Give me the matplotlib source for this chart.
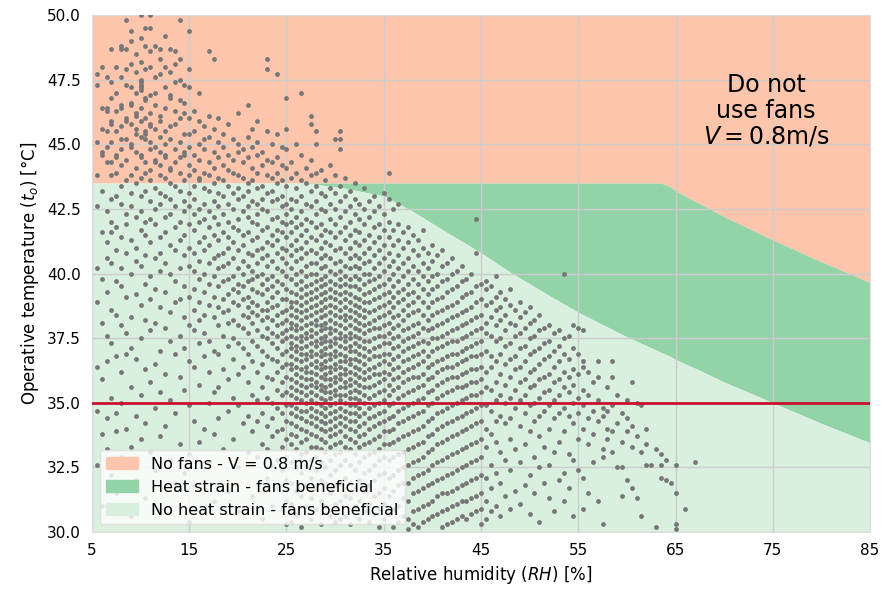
import matplotlib
matplotlib.use("Agg")
import matplotlib.pyplot as plt
from matplotlib.patches import Patch

# boundaries of the fan-use regions
rh_bound = [5, 27, 31, 35, 38, 41, 45, 48, 52, 55, 60, 63.5, 64.5, 65, 66.2, 67.5, 70, 75, 80, 85]
t_nofan = [43.5, 43.5, 43.5, 43.5, 43.5, 43.5, 43.5, 43.5, 43.5, 43.5, 43.5, 43.5,
           43.35, 43.2, 42.95, 42.7, 42.2, 41.3, 40.45, 39.65]
t_strain = [43.5, 43.5, 43.3, 43.0, 42.4, 41.7, 40.8, 40.05, 39.15, 38.5, 37.55, 36.95,
            36.78, 36.68, 36.47, 36.25, 35.8, 35.0, 34.2, 33.45]
t_limit = 35.0

x_ticks = [5, 15, 25, 35, 45, 55, 65, 75, 85]
y_ticks = [30.0, 32.5, 35.0, 37.5, 40.0, 42.5, 45.0, 47.5, 50.0]

region_labels = ["No fans - V = 0.8 m/s", "Heat strain - fans beneficial",
                 "No heat strain - fans beneficial"]

# observations (RH, list of operative temperatures)
obs_low_rh = [
    (5.5, [47.7, 47.3, 45.1, 43.8, 42.6, 40.2, 38.9, 36.4, 34.7, 32.6]),
    (6.0, [48.0, 46.4, 45.6, 44.7, 44.6, 43.2, 41.6, 39.8, 38.1, 35.9, 33.8, 31.0]),
    (6.5, [47.6, 46.4, 46.3, 45.5, 44.9, 44.3, 42.4, 41.2, 40.6, 39.3, 37.6, 36.6, 34.4, 33.2]),
    (7.0, [48.7, 47.4, 46.8, 45.9, 45.8, 45.1, 44.3, 43.8, 42.9, 42.0, 41.6, 40.4, 38.6, 37.3, 35.2, 32.2]),
    (7.5, [48.0, 47.0, 46.3, 45.5, 44.6, 44.5, 43.9, 43.0, 41.8, 40.9, 39.7, 38.4, 36.8, 34.6, 33.9, 31.5]),
    (8.0, [48.8, 48.7, 47.6, 46.5, 46.4, 45.7, 45.2, 44.8, 44.2, 43.4, 42.7, 41.4, 40.2, 39.5, 38.0, 36.2, 35.0, 32.9]),
    (8.5, [49.8, 48.7, 47.9, 47.3, 46.0, 45.9, 45.2, 44.4, 43.6, 42.3, 41.9, 40.8, 39.1, 37.7, 36.9, 34.0, 31.7]),
    (9.0, [49.4, 49.0, 48.1, 47.2, 46.6, 46.5, 45.8, 45.0, 44.9, 43.8, 43.1, 42.6, 41.3, 40.0, 38.3, 37.1, 35.6, 33.3, 30.6]),
    (9.5, [48.5, 47.8, 47.0, 46.2, 46.1, 45.6, 45.4, 44.7, 44.1, 43.5, 42.2, 41.0, 40.5, 39.2, 36.7, 34.5, 32.0]),
    (10.0, [50.0, 49.1, 48.2, 47.5, 47.4, 47.3, 47.2, 47.1, 46.4, 45.9, 45.3, 44.6, 44.5, 43.7, 43.0, 42.4, 41.7, 40.3, 38.8, 37.5, 35.3, 33.6]),
    (10.5, [49.5, 48.8, 47.9, 46.8, 46.7, 46.0, 45.5, 45.4, 45.2, 44.3, 43.9, 43.2, 42.0, 41.5, 40.7, 39.6, 38.2, 36.3, 34.2, 31.3]),
    (11.0, [50.0, 49.5, 48.6, 48.0, 46.9, 46.2, 45.8, 45.7, 45.1, 44.8, 44.0, 43.6, 42.8, 42.1, 41.2, 39.9, 39.0, 37.8, 35.8, 33.1]),
    (11.5, [48.8, 47.6, 47.0, 46.5, 45.6, 44.9, 44.4, 44.3, 43.3, 42.5, 41.9, 40.6, 39.4, 38.1, 36.5, 34.8, 32.4]),
    (12.0, [48.7, 48.3, 47.7, 46.1, 45.9, 45.3, 44.7, 44.2, 43.8, 43.1, 42.7, 41.4, 40.8, 40.1, 38.7, 37.0, 35.4, 33.7, 30.9]),
    (12.5, [49.2, 48.0, 47.2, 46.4, 45.5, 45.0, 44.6, 44.5, 43.7, 43.0, 42.2, 41.6, 40.4, 39.3, 37.9, 36.1, 34.1]),
    (13.0, [48.7, 47.8, 46.9, 46.8, 45.7, 45.2, 44.1, 44.0, 43.5, 42.9, 42.3, 41.1, 40.0, 38.5, 37.4, 35.1, 32.8]),
    (13.5, [48.6, 48.1, 47.4, 46.3, 45.8, 44.8, 44.3, 43.4, 42.6, 41.8, 40.9, 39.7, 38.9, 36.9, 34.6, 31.9]),
    (14.0, [49.8, 48.3, 47.5, 46.7, 46.0, 45.1, 44.5, 43.9, 43.2, 42.0, 41.3, 40.2, 39.0, 37.6, 36.0, 33.4]),
    (14.5, [47.3, 46.6, 46.2, 45.4, 44.7, 44.6, 43.6, 42.8, 42.4, 41.5, 40.7, 39.5, 38.3, 37.1, 35.5, 32.3]),
    (15.0, [49.4, 47.9, 47.2, 46.0, 45.4, 44.9, 44.2, 43.8, 43.1, 42.6, 41.9, 41.0, 40.3, 39.1, 38.0, 36.6, 34.9, 33.0, 30.4]),
]

obs_mid_rh = [
    (15.5, [46.3, 45.5, 44.6, 44.0, 43.4, 42.9, 42.3, 41.7, 40.8, 40.1, 39.4, 38.6, 37.8, 36.4, 34.3, 31.8]),
    (16.0, [47.0, 45.9, 45.0, 44.4, 43.7, 43.6, 42.5, 42.0, 41.2, 40.5, 39.8, 38.9, 38.2, 37.3, 35.7, 33.5]),
    (16.5, [45.7, 45.2, 44.8, 43.9, 43.3, 42.7, 42.1, 41.4, 40.9, 40.0, 39.3, 38.4, 37.7, 36.8, 34.0]),
    (17.0, [48.6, 46.1, 45.3, 44.3, 43.8, 43.2, 42.4, 41.8, 41.1, 40.4, 39.6, 38.8, 37.4, 36.2, 35.0, 32.7]),
    (17.5, [48.3, 45.6, 44.7, 44.1, 43.5, 42.8, 42.2, 41.5, 40.6, 39.9, 39.1, 38.3, 37.0, 35.4, 33.8, 31.2]),
    (18.0, [46.0, 45.1, 44.5, 43.7, 43.1, 42.6, 41.9, 41.3, 40.7, 40.2, 39.5, 38.7, 38.0, 36.9, 35.6, 34.4]),
    (18.5, [45.4, 44.9, 44.2, 43.6, 43.0, 42.3, 41.6, 40.8, 40.3, 39.7, 39.0, 38.5, 37.6, 36.3, 33.2]),
    (19.0, [45.8, 44.6, 44.0, 43.4, 42.7, 42.0, 41.4, 41.0, 40.4, 39.8, 39.2, 38.6, 38.1, 37.2, 35.9, 34.7, 31.6]),
    (19.5, [45.2, 44.4, 43.9, 43.1, 42.5, 41.8, 41.2, 40.6, 39.9, 39.4, 38.9, 38.2, 37.5, 36.7, 35.2, 33.6]),
    (20.0, [46.2, 45.0, 44.7, 43.8, 43.3, 42.9, 42.1, 41.7, 40.9, 40.2, 39.6, 39.3, 38.8, 38.0, 37.3, 36.1, 34.9, 32.5, 30.8]),
    (20.5, [44.8, 44.3, 43.7, 43.0, 42.4, 41.5, 41.1, 40.5, 40.0, 39.5, 39.0, 38.4, 37.9, 37.1, 36.4, 34.2]),
    (21.0, [46.5, 45.3, 44.5, 43.5, 43.2, 42.6, 42.2, 41.6, 40.8, 40.3, 39.7, 39.1, 38.7, 38.3, 37.7, 36.9, 35.8, 34.5, 33.1]),
    (21.5, [45.6, 44.9, 44.1, 43.6, 42.8, 42.0, 41.3, 40.7, 40.1, 39.8, 39.4, 38.9, 38.5, 38.1, 37.4, 36.6, 35.3, 33.9, 31.4]),
    (22.0, [45.9, 45.1, 44.6, 43.9, 43.3, 42.7, 42.3, 41.9, 41.4, 40.9, 40.4, 39.9, 39.3, 38.8, 38.4, 37.8, 37.2, 36.2, 35.1, 34.3, 32.9]),
    (22.5, [44.7, 44.2, 43.4, 42.9, 42.5, 41.7, 41.0, 40.6, 40.0, 39.6, 39.2, 38.6, 38.2, 37.6, 37.0, 36.5, 35.6, 34.6, 33.4, 30.5]),
    (23.0, [48.3, 47.9, 45.5, 44.4, 43.8, 43.1, 42.4, 41.8, 41.2, 40.7, 40.3, 39.8, 39.4, 38.9, 38.6, 38.3, 37.9, 37.5, 36.8, 36.0, 35.2, 34.1, 33.2, 32.1]),
    (23.5, [45.0, 44.3, 43.7, 43.2, 42.8, 42.1, 41.5, 41.1, 40.5, 39.9, 39.5, 39.1, 38.7, 38.2, 37.7, 37.3, 36.7, 35.9, 35.0, 34.4, 33.7, 32.6, 31.0]),
    (24.0, [47.7, 45.4, 44.5, 43.9, 43.5, 42.9, 42.2, 41.7, 41.3, 40.8, 40.2, 39.7, 39.3, 38.8, 38.4, 38.0, 37.6, 37.1, 36.6, 36.2, 35.5, 34.8, 33.9, 32.8, 31.7]),
    (24.5, [44.9, 44.2, 43.6, 43.0, 42.6, 42.0, 41.6, 41.0, 40.6, 40.1, 39.6, 39.0, 38.5, 38.1, 37.7, 37.4, 36.9, 36.4, 35.8, 35.3, 34.6, 34.0, 33.3, 32.4, 30.9]),
    (25.0, [46.8, 45.6, 44.8, 44.1, 43.4, 42.7, 42.3, 41.9, 41.4, 40.9, 40.4, 39.9, 39.4, 39.0, 38.6, 38.2, 37.8, 37.5, 37.0, 36.5, 36.0, 35.4, 34.9, 34.3, 33.6, 32.9, 32.0, 31.2, 30.3]),
]

obs_dense_rh = [
    (25.5, [44.3, 43.7, 42.9, 42.5, 42.0, 41.6, 41.1, 40.7, 40.2, 39.8, 39.3, 38.9, 38.7, 38.4, 38.1, 37.9, 37.6, 37.3, 37.1, 36.8, 36.5, 36.3, 35.9, 35.6, 35.3, 34.9, 34.6, 34.2, 33.8, 33.4, 32.7, 31.9, 31.1, 30.4]),
    (26.0, [45.0, 43.9, 43.3, 42.8, 42.2, 41.8, 41.3, 40.9, 40.5, 40.0, 39.6, 39.2, 38.9, 38.6, 38.3, 38.0, 37.8, 37.5, 37.2, 37.0, 36.7, 36.4, 36.1, 35.8, 35.5, 35.2, 34.8, 34.5, 34.1, 33.7, 33.2, 32.5, 31.6, 30.7]),
    (26.5, [47.0, 44.6, 43.6, 43.0, 42.4, 41.9, 41.5, 41.0, 40.6, 40.1, 39.7, 39.4, 39.1, 38.8, 38.5, 38.2, 37.9, 37.6, 37.4, 37.1, 36.9, 36.6, 36.3, 36.0, 35.7, 35.4, 35.1, 34.7, 34.4, 34.0, 33.5, 33.0, 32.3, 31.4, 30.2]),
    (27.0, [44.1, 43.5, 42.7, 42.1, 41.7, 41.2, 40.8, 40.3, 39.9, 39.5, 39.2, 38.9, 38.6, 38.3, 38.0, 37.7, 37.5, 37.2, 36.9, 36.7, 36.4, 36.2, 35.9, 35.6, 35.3, 35.0, 34.7, 34.3, 33.9, 33.6, 33.1, 32.6, 31.8, 31.0]),
    (27.5, [46.1, 45.8, 44.4, 43.8, 43.2, 42.6, 42.0, 41.4, 40.9, 40.4, 40.0, 39.6, 39.3, 39.0, 38.7, 38.4, 38.1, 37.8, 37.6, 37.3, 37.0, 36.8, 36.5, 36.2, 35.9, 35.7, 35.4, 35.1, 34.8, 34.5, 34.2, 33.8, 33.3, 32.8, 32.1, 31.3, 30.5]),
    (28.0, [45.5, 45.0, 43.9, 43.4, 42.8, 42.3, 41.8, 41.3, 40.8, 40.4, 40.0, 39.7, 39.4, 39.1, 38.8, 38.5, 38.2, 38.0, 37.7, 37.4, 37.2, 36.9, 36.6, 36.4, 36.1, 35.8, 35.6, 35.3, 35.0, 34.7, 34.4, 34.1, 33.7, 33.3, 32.9, 32.4, 31.7, 30.9]),
    (28.5, [44.0, 43.1, 42.5, 41.9, 41.5, 41.0, 40.6, 40.2, 39.8, 39.5, 39.2, 38.9, 38.6, 38.3, 38.0, 37.8, 37.5, 37.3, 37.0, 36.8, 36.5, 36.3, 36.0, 35.7, 35.5, 35.2, 34.9, 34.6, 34.3, 34.0, 33.6, 33.2, 32.7, 32.0, 31.2, 30.3]),
    (29.0, [43.6, 43.0, 42.4, 41.7, 41.2, 40.7, 40.3, 39.9, 39.6, 39.3, 39.0, 38.7, 38.4, 38.1, 37.9, 37.6, 37.4, 37.1, 36.9, 36.6, 36.4, 36.1, 35.9, 35.6, 35.4, 35.1, 34.8, 34.5, 34.2, 33.9, 33.5, 33.1, 32.5, 31.9, 31.0]),
    (29.5, [44.2, 43.3, 42.7, 42.1, 41.6, 41.1, 40.6, 40.1, 39.7, 39.4, 39.1, 38.8, 38.5, 38.2, 37.9, 37.7, 37.4, 37.2, 36.9, 36.7, 36.4, 36.2, 35.9, 35.7, 35.4, 35.2, 34.9, 34.6, 34.3, 34.0, 33.7, 33.3, 32.8, 32.2, 31.5, 30.6]),
    (30.0, [45.2, 43.8, 43.1, 42.5, 41.9, 41.4, 40.9, 40.4, 40.0, 39.6, 39.3, 39.0, 38.7, 38.4, 38.1, 37.8, 37.5, 37.3, 37.0, 36.8, 36.5, 36.3, 36.0, 35.8, 35.5, 35.3, 35.0, 34.7, 34.4, 34.1, 33.8, 33.4, 33.0, 32.4, 31.8, 31.1, 30.4]),
    (30.5, [45.5, 45.2, 44.8, 43.4, 42.8, 42.2, 41.6, 41.0, 40.5, 40.1, 39.8, 39.5, 39.2, 38.9, 38.6, 38.3, 38.0, 37.7, 37.5, 37.2, 36.9, 36.6, 36.4, 36.1, 35.9, 35.6, 35.3, 35.1, 34.8, 34.5, 34.2, 33.9, 33.5, 33.1, 32.6, 31.9, 31.2, 30.5]),
    (31.0, [43.7, 43.0, 42.4, 41.8, 41.3, 40.8, 40.3, 39.9, 39.6, 39.3, 39.0, 38.7, 38.4, 38.2, 37.9, 37.6, 37.4, 37.1, 36.8, 36.6, 36.3, 36.1, 35.8, 35.6, 35.3, 35.0, 34.7, 34.4, 34.1, 33.7, 33.3, 32.8, 32.1, 31.4, 30.6]),
    (31.5, [43.2, 42.6, 42.0, 41.5, 41.0, 40.6, 40.2, 39.8, 39.5, 39.2, 38.9, 38.6, 38.3, 38.0, 37.7, 37.5, 37.2, 37.0, 36.7, 36.5, 36.2, 35.9, 35.7, 35.4, 35.2, 34.9, 34.6, 34.3, 34.0, 33.6, 33.2, 32.6, 31.9, 31.3, 30.3]),
    (32.0, [43.5, 42.9, 42.3, 41.7, 41.2, 40.7, 40.3, 39.9, 39.5, 39.1, 38.8, 38.5, 38.2, 37.9, 37.6, 37.3, 37.0, 36.7, 36.4, 36.1, 35.8, 35.5, 35.2, 34.9, 34.6, 34.3, 33.9, 33.5, 33.0, 32.4, 31.7, 31.0]),
    (32.5, [42.7, 42.1, 41.6, 41.1, 40.6, 40.2, 39.8, 39.4, 39.0, 38.7, 38.4, 38.1, 37.8, 37.5, 37.2, 36.9, 36.6, 36.3, 36.0, 35.7, 35.4, 35.1, 34.8, 34.5, 34.1, 33.7, 33.3, 32.7, 32.0, 31.2, 30.5]),
    (33.0, [43.3, 42.5, 41.9, 41.3, 40.8, 40.4, 40.0, 39.6, 39.2, 38.9, 38.6, 38.3, 38.0, 37.7, 37.4, 37.1, 36.8, 36.5, 36.2, 35.9, 35.6, 35.3, 35.0, 34.6, 34.2, 33.8, 33.4, 32.9, 32.3, 31.6, 30.8]),
    (33.5, [42.8, 42.2, 41.5, 41.0, 40.5, 40.0, 39.7, 39.3, 38.9, 38.5, 38.1, 37.8, 37.4, 37.0, 36.7, 36.3, 36.0, 35.6, 35.2, 34.8, 34.4, 34.0, 33.5, 33.0, 32.4, 31.8, 31.1, 30.4]),
    (34.0, [43.0, 42.4, 41.8, 41.2, 40.7, 40.2, 39.8, 39.4, 39.0, 38.6, 38.2, 37.9, 37.5, 37.1, 36.8, 36.4, 36.1, 35.7, 35.3, 34.9, 34.5, 34.1, 33.6, 33.1, 32.6, 32.0, 31.4, 30.7]),
    (34.5, [42.6, 41.9, 41.4, 40.9, 40.4, 39.9, 39.5, 39.1, 38.7, 38.3, 37.9, 37.6, 37.2, 36.8, 36.5, 36.1, 35.8, 35.4, 35.0, 34.6, 34.2, 33.7, 33.2, 32.8, 32.2, 31.5, 30.9, 30.2]),
    (35.0, [43.1, 42.3, 41.7, 41.1, 40.6, 40.1, 39.6, 39.2, 38.8, 38.4, 38.0, 37.6, 37.3, 36.9, 36.6, 36.2, 35.9, 35.5, 35.1, 34.7, 34.3, 33.9, 33.4, 32.9, 32.3, 31.7, 31.1, 30.5]),
]

obs_upper_rh = [
    (35.5, [43.9, 42.9, 42.0, 41.4, 40.8, 40.3, 39.8, 39.3, 38.9, 38.5, 38.1, 37.7, 37.3, 36.9, 36.5, 36.1, 35.7, 35.3, 34.9, 34.4, 33.9, 33.4, 32.8, 32.1, 31.4, 30.7]),
    (36.0, [42.5, 41.7, 41.1, 40.5, 40.0, 39.5, 39.1, 38.7, 38.3, 37.9, 37.5, 37.1, 36.7, 36.3, 35.9, 35.5, 35.0, 34.5, 34.0, 33.5, 32.9, 32.2, 31.6, 30.9, 30.2]),
    (36.5, [42.7, 41.9, 41.3, 40.7, 40.2, 39.7, 39.3, 38.9, 38.4, 38.0, 37.6, 37.2, 36.8, 36.4, 36.0, 35.6, 35.2, 34.7, 34.2, 33.6, 33.0, 32.4, 31.8, 31.0, 30.4]),
    (37.0, [41.6, 41.0, 40.4, 39.9, 39.4, 39.0, 38.6, 38.2, 37.8, 37.4, 37.0, 36.6, 36.2, 35.8, 35.3, 34.8, 34.3, 33.7, 33.1, 32.5, 31.9, 31.3, 30.6]),
    (37.5, [41.8, 41.2, 40.6, 40.1, 39.6, 39.2, 38.8, 38.4, 37.9, 37.5, 37.1, 36.7, 36.3, 35.9, 35.4, 34.9, 34.4, 33.8, 33.2, 32.6, 31.9, 31.2, 30.5, 30.1]),
    (38.0, [41.5, 40.9, 40.3, 39.8, 39.3, 38.9, 38.5, 38.0, 37.6, 37.2, 36.8, 36.4, 36.0, 35.5, 35.0, 34.5, 33.9, 33.3, 32.7, 32.1, 31.5, 30.8, 30.3]),
    (38.5, [41.3, 40.7, 40.1, 39.6, 39.1, 38.6, 38.1, 37.7, 37.3, 36.9, 36.5, 36.0, 35.6, 35.1, 34.6, 34.0, 33.4, 32.8, 32.2, 31.6, 30.9, 30.2]),
    (39.0, [41.7, 41.0, 40.4, 39.9, 39.4, 38.9, 38.4, 37.9, 37.4, 37.0, 36.6, 36.1, 35.7, 35.2, 34.7, 34.1, 33.5, 32.9, 32.3, 31.7, 31.0, 30.4]),
    (39.5, [40.8, 40.2, 39.7, 39.2, 38.7, 38.2, 37.8, 37.3, 36.8, 36.4, 35.9, 35.4, 34.9, 34.3, 33.7, 33.1, 32.4, 31.8, 31.1, 30.5]),
    (40.0, [41.1, 40.5, 39.9, 39.4, 38.9, 38.4, 37.9, 37.5, 37.0, 36.5, 36.0, 35.5, 35.0, 34.4, 33.8, 33.2, 32.6, 31.9, 31.2, 30.6]),
    (40.5, [40.7, 40.0, 39.5, 39.0, 38.5, 38.0, 37.5, 37.1, 36.6, 36.2, 35.7, 35.2, 34.6, 34.0, 33.4, 32.7, 32.0, 31.4, 30.7]),
    (41.0, [40.9, 40.3, 39.7, 39.1, 38.6, 38.1, 37.6, 37.2, 36.7, 36.3, 35.8, 35.3, 34.7, 34.1, 33.5, 32.8, 32.1, 31.5, 30.8, 30.2]),
    (41.5, [40.4, 39.8, 39.3, 38.7, 38.2, 37.7, 37.3, 36.8, 36.4, 35.9, 35.4, 34.8, 34.2, 33.6, 32.9, 32.2, 31.5, 30.9, 30.3]),
    (42.0, [40.6, 40.0, 39.4, 38.8, 38.3, 37.8, 37.4, 36.9, 36.4, 36.0, 35.5, 34.9, 34.3, 33.7, 33.0, 32.3, 31.6, 31.0, 30.4]),
    (42.5, [40.1, 39.5, 38.9, 38.4, 37.9, 37.4, 36.9, 36.5, 36.0, 35.6, 35.0, 34.4, 33.8, 33.1, 32.4, 31.7, 31.1, 30.5]),
    (43.0, [40.3, 39.7, 39.1, 38.5, 38.0, 37.5, 37.0, 36.6, 36.1, 35.6, 35.1, 34.5, 33.9, 33.2, 32.5, 31.8, 31.2, 30.6]),
    (43.5, [39.8, 39.2, 38.6, 38.1, 37.6, 37.1, 36.7, 36.2, 35.7, 35.2, 34.6, 34.0, 33.3, 32.6, 31.9, 31.2, 30.5]),
    (44.0, [40.0, 39.3, 38.7, 38.2, 37.7, 37.2, 36.8, 36.3, 35.8, 35.3, 34.7, 34.1, 33.4, 32.7, 32.0, 31.3, 30.7]),
    (44.5, [42.1, 40.8, 39.5, 38.9, 38.3, 37.8, 37.3, 36.8, 36.3, 35.8, 35.3, 34.8, 34.2, 33.5, 32.8, 32.1, 31.4, 30.8]),
    (45.0, [39.6, 39.0, 38.4, 37.9, 37.4, 36.9, 36.4, 35.9, 35.4, 34.9, 34.3, 33.6, 32.9, 32.2, 31.5, 30.9, 30.3]),
]

obs_high_rh = [
    (45.5, [39.7, 39.4, 38.8, 38.1, 37.7, 37.0, 36.2, 35.6, 34.9, 34.0, 33.3, 32.1, 31.2, 30.5]),
    (46.0, [39.5, 38.9, 38.3, 37.6, 36.8, 36.4, 35.5, 34.7, 33.8, 32.6, 31.7, 30.8]),
    (46.5, [39.9, 39.1, 38.6, 38.0, 37.4, 36.6, 35.8, 35.1, 34.3, 33.5, 32.3, 31.0]),
    (47.0, [39.3, 38.7, 38.2, 37.5, 36.9, 36.1, 35.3, 34.5, 33.1, 31.9, 30.6]),
    (47.5, [39.0, 38.4, 37.8, 37.2, 36.5, 35.7, 35.0, 34.2, 32.8, 31.4]),
    (48.0, [39.4, 38.8, 38.1, 37.3, 36.7, 36.0, 35.2, 34.4, 33.6, 32.4, 30.9]),
    (48.5, [38.6, 38.0, 37.6, 36.8, 36.3, 35.5, 34.8, 33.2, 31.6]),
    (49.0, [38.9, 38.3, 37.7, 37.1, 36.4, 35.8, 35.1, 34.1, 32.7, 31.1]),
    (49.5, [38.5, 37.9, 37.2, 36.6, 35.9, 35.3, 34.6, 33.4, 31.8]),
    (50.0, [38.7, 38.1, 37.5, 36.9, 36.2, 35.6, 34.9, 33.9, 32.2, 30.7]),
    (50.5, [38.2, 37.6, 37.0, 36.3, 35.7, 35.0, 34.3, 32.9, 31.5]),
    (51.0, [38.4, 37.8, 37.1, 36.5, 35.9, 35.2, 34.5, 33.7, 32.5, 30.4]),
    (51.5, [37.9, 37.3, 36.7, 36.0, 35.4, 34.7, 33.3, 31.9]),
    (52.0, [38.0, 37.4, 36.8, 36.1, 35.5, 34.9, 34.0, 32.6, 31.3]),
    (52.5, [37.7, 37.0, 36.4, 35.8, 35.1, 34.4, 33.1, 30.8]),
    (53.0, [37.8, 37.2, 36.6, 35.9, 35.3, 34.6, 33.5, 32.0]),
    (53.5, [40.0, 37.5, 36.9, 36.2, 35.6, 34.8, 33.9, 32.3, 31.2]),
    (54.0, [37.6, 36.7, 36.0, 35.4, 34.5, 33.0, 31.7]),
    (54.5, [38.0, 37.1, 36.3, 35.7, 35.0, 34.2, 32.8, 30.6]),
    (55.0, [37.9, 36.9, 36.1, 35.2, 34.6, 33.6, 32.4]),
    (55.5, [37.8, 36.6, 36.4, 35.5, 34.9, 34.0, 32.1, 30.9]),
    (56.0, [36.2, 35.3, 34.4, 33.4, 31.5]),
    (56.5, [35.8, 34.7, 33.8, 32.7]),
    (57.0, [36.6, 36.0, 35.1, 34.3, 31.2]),
    (57.5, [34.8, 34.5, 33.2, 32.9, 30.3]),
    (58.0, [35.6, 34.7, 34.0, 33.6]),
    (58.5, [36.6, 36.0, 34.9, 33.9, 33.1]),
    (59.0, [35.3, 34.2, 32.5]),
    (59.5, [34.6, 33.5, 32.5, 31.4]),
    (60.0, [35.1, 34.4, 33.9, 32.0]),
    (60.5, [35.8, 34.1, 33.3, 31.7]),
    (61.0, [35.0, 33.7, 31.3]),
    (61.5, [34.9, 33.1, 30.6]),
    (62.0, [34.0, 33.4, 32.6]),
    (62.5, [32.6]),
    (63.0, [33.2, 30.2]),
    (63.5, [33.0, 32.6, 32.1]),
    (64.0, [32.8, 32.0]),
    (64.5, [31.9]),
    (65.0, [32.6, 31.5, 30.3, 30.1]),
    (66.0, [30.9]),
    (67.0, [32.7]),
]

rh_obs = []
t_obs = []
for band in [obs_low_rh, obs_mid_rh, obs_dense_rh, obs_upper_rh, obs_high_rh]:
    for rh, temps in band:
        for t in temps:
            rh_obs.append(rh)
            t_obs.append(t)

c_nofan = "#fdc5ab"
c_strain = "#93d3a8"
c_ok = "#d9f0df"

fig = plt.figure(figsize=(8.82, 5.96), dpi=100)
ax = fig.add_axes([0.1043, 0.1074, 0.8821, 0.8674])

ax.fill_between(rh_bound, t_nofan, 50, color=c_nofan, linewidth=0, zorder=1)
ax.fill_between(rh_bound, t_strain, t_nofan, color=c_strain, linewidth=0, zorder=1)
ax.fill_between(rh_bound, 30, t_strain, color=c_ok, linewidth=0, zorder=1)

ax.grid(True, color="#cccccc", linewidth=1.0, zorder=1.5)
ax.scatter(rh_obs, t_obs, s=12, color="#767676", linewidths=0, zorder=3)
ax.axhline(t_limit, color="#c8102e", linewidth=2, zorder=4)

ax.text(74.3, 46.3, "Do not\nuse fans\n$V = 0.8$m/s", fontsize=17, ha="center",
        va="center", linespacing=1.1, zorder=5)

ax.set_xlim(5, 85)
ax.set_ylim(30, 50)
ax.set_xticks(x_ticks)
ax.set_yticks(y_ticks)
ax.set_yticklabels([f"{v:.1f}" for v in y_ticks])
ax.tick_params(length=0, labelsize=11, pad=8)
for sp in ax.spines.values():
    sp.set_color("#dddddd")

ax.set_xlabel("Relative humidity ($RH$) [%]", fontsize=12)
ax.set_ylabel("Operative temperature ($t_o$) [°C]", fontsize=12)

handles = [Patch(color=c) for c in [c_nofan, c_strain, c_ok]]
leg = ax.legend(handles, region_labels, loc="lower left", fontsize=11.5,
                framealpha=0.8, edgecolor="#dddddd", fancybox=True)
leg.set_zorder(6)

fig.savefig("out.png", dpi=100)
